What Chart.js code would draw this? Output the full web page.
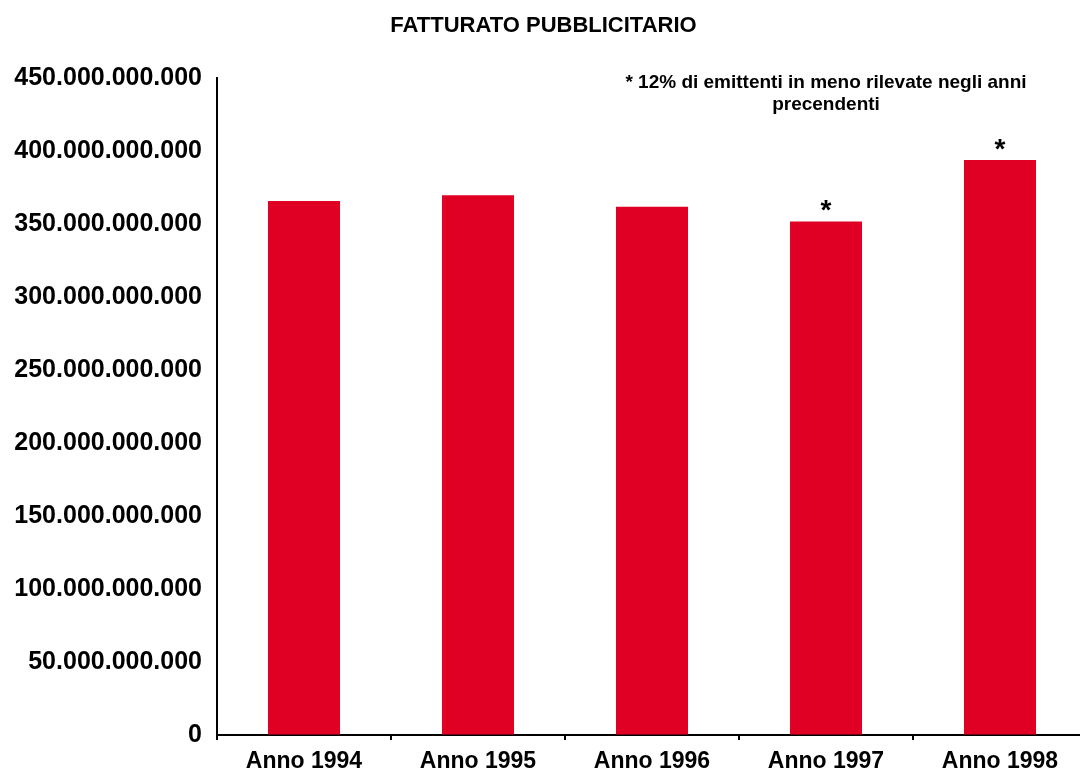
<!DOCTYPE html>
<html>
<head>
<meta charset="utf-8">
<script src="https://cdn.jsdelivr.net/npm/chart.js@4/dist/chart.umd.min.js"></script>
<style>
  html, body { margin: 0; padding: 0; background: #fff; overflow: hidden; }
  #wrap { width: 1090px; height: 783px; }
</style>
</head>
<body>
<div id="wrap"><canvas id="chart"></canvas></div>
<script>
// Data
const years = ['Anno 1994', 'Anno 1995', 'Anno 1996', 'Anno 1997', 'Anno 1998'];
const fatturato = [366e9, 370e9, 362e9, 352e9, 394e9];
const marks = ['', '', '', '*', '*'];
const noteLines = ['* 12% di emittenti in meno rilevate negli anni', 'precendenti'];

const FONT = "'Liberation Sans', Arial, sans-serif";

// dotted thousands, e.g. 450.000.000.000
const formatDots = (v) => String(Math.round(v)).replace(/\B(?=(\d{3})+(?!\d))/g, '.');

// Asterisks over the bars + footnote at top right
const notesPlugin = {
    id: 'notes',
    afterDatasetsDraw(chart) {
        const { ctx, scales: { x, y } } = chart;
        ctx.save();
        ctx.fillStyle = '#000';
        ctx.textAlign = 'center';
        ctx.textBaseline = 'alphabetic';
        ctx.font = `bold 28px ${FONT}`;
        marks.forEach((m, i) => {
            if (!m) return;
            ctx.fillText(m, x.getPixelForValue(i), y.getPixelForValue(fatturato[i]) - 2);
        });
        ctx.font = `bold 19px ${FONT}`;
        ctx.textBaseline = 'middle';
        const top = y.getPixelForValue(450e9);
        noteLines.forEach((line, k) => {
            ctx.fillText(line, x.getPixelForValue(3), top + 4 + k * 22);
        });
        ctx.restore();
    }
};

new Chart(document.getElementById('chart'), {
    type: 'bar',
    data: {
        labels: years,
        datasets: [{
            label: 'Fatturato pubblicitario',
            data: fatturato,
            backgroundColor: '#E00024',
            borderWidth: 0,
            categoryPercentage: 1,
            barPercentage: 0.414
        }]
    },
    options: {
        responsive: true,
        maintainAspectRatio: false,
        animation: false,
        layout: { padding: { left: 0, right: 3, top: 0, bottom: 0 } },
        plugins: {
            legend: { display: false },
            tooltip: { enabled: false },
            title: {
                display: true,
                text: 'FATTURATO PUBBLICITARIO',
                color: '#000',
                font: { family: FONT, size: 22, weight: 'bold', lineHeight: 1.2 },
                padding: { top: 13, bottom: 39 }
            }
        },
        scales: {
            x: {
                grid: {
                    display: true,
                    drawOnChartArea: false,
                    offset: true,
                    color: '#000',
                    lineWidth: 2,
                    tickLength: 5
                },
                border: { display: true, color: '#000', width: 2 },
                ticks: {
                    color: '#000',
                    padding: 10,
                    font: { family: FONT, size: 23, weight: 'bold', lineHeight: 1 }
                }
            },
            y: {
                min: 0,
                max: 450e9,
                afterFit(scale) { scale.width = 217; },
                grid: { display: true, drawOnChartArea: false, drawTicks: false },
                border: { display: true, color: '#000', width: 2 },
                ticks: {
                    stepSize: 50e9,
                    color: '#000',
                    padding: 15,
                    font: { family: FONT, size: 25, weight: 'bold' },
                    callback: (v) => formatDots(v)
                }
            }
        }
    },
    plugins: [notesPlugin]
});
</script>
</body>
</html>
